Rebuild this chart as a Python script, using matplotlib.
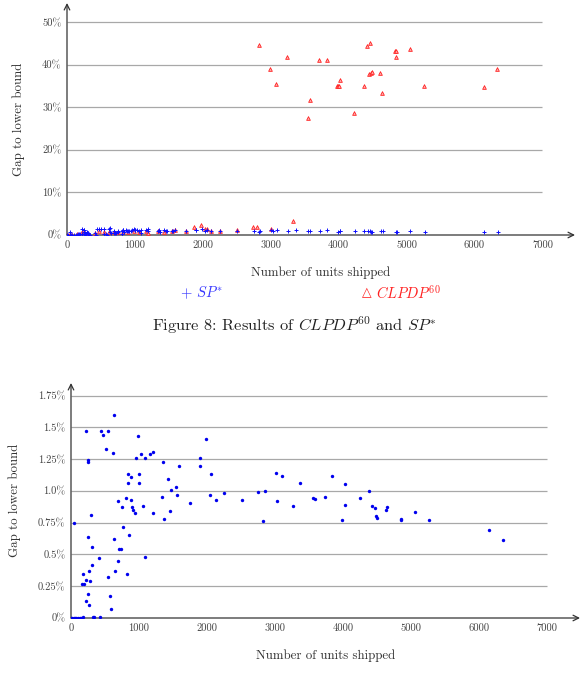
import matplotlib
matplotlib.use("Agg")
import matplotlib.pyplot as plt

plt.rcParams['font.family'] = 'serif'
plt.rcParams['font.serif'] = ['cmr10', 'DejaVu Serif']
plt.rcParams['mathtext.fontset'] = 'cm'
plt.rcParams['axes.formatter.use_mathtext'] = True

# SP* results: number of units shipped vs gap to lower bound (%)
sp_units = [0, 20, 40, 60, 80, 100, 130, 150, 172, 44, 216, 251, 256, 300, 251,
            310, 305, 261, 177, 167, 187, 221, 280, 256, 221, 271, 320, 335, 428,
            418, 438, 477, 507, 546, 551, 576, 595, 615, 639, 630, 644, 698, 698,
            708, 728, 753, 758, 807, 817, 831, 831, 846, 876, 886, 900, 915, 935,
            959, 989, 999, 994, 1033, 1058, 1087, 1092, 1156, 1200, 1200, 1338,
            1358, 1363, 1431, 1451, 1466, 1545, 1564, 1589, 1756, 1894, 1894, 1987,
            2036, 2061, 2125, 2253, 2509, 2755, 2828, 2848, 3006, 3030, 3099, 3261,
            3365, 3554, 3583, 3726, 3834, 3986, 4025, 4025, 4241, 4378, 4427, 4461,
            4476, 4495, 4623, 4647, 4843, 4853, 5054, 5265, 6143, 6343]
sp_gap = [0.0, 0.0, 0.0, 0.0, 0.0, 0.0, 0.0, 0.0, 0.01, 0.75, 1.47, 1.24, 1.23,
          0.81, 0.64, 0.56, 0.42, 0.37, 0.35, 0.27, 0.27, 0.30, 0.29, 0.19, 0.13,
          0.10, 0.01, 0.01, 0.01, 0.47, 1.47, 1.44, 1.33, 1.47, 0.32, 0.17, 0.07,
          1.30, 1.60, 0.62, 0.37, 0.92, 0.45, 0.545, 0.54, 0.87, 0.715, 0.945,
          0.345, 1.13, 1.06, 0.65, 1.11, 0.93, 0.87, 0.85, 0.825, 1.26, 1.43, 1.13,
          1.06, 1.29, 0.885, 1.26, 0.48, 1.29, 1.305, 0.83, 0.956, 1.226, 0.78,
          1.095, 0.844, 1.006, 1.035, 0.97, 1.195, 0.904, 1.26, 1.20, 1.41, 0.97,
          1.13, 0.93, 0.985, 0.93, 0.995, 0.76, 1.0, 1.145, 0.92, 1.12, 0.88, 1.06,
          0.946, 0.933, 0.956, 1.12, 0.768, 1.056, 0.893, 0.948, 1.003, 0.88, 0.867,
          0.804, 0.789, 0.849, 0.872, 0.78, 0.773, 0.833, 0.77, 0.694, 0.613]

# CLPDP^60 results
clp_units = [0, 40, 80, 150, 216, 256, 300, 418, 477, 546, 615, 698, 753, 831, 900,
             989, 1058, 1156, 1200, 1338, 1431, 1545, 1589, 1756, 1870, 1969, 2036,
             2061, 2125, 2253, 2509, 2735, 2803, 3004, 3333,
             2828, 2985, 3073, 3240, 3549, 3579, 3716, 3824, 3971, 3996, 4010, 4020,
             4232, 4379, 4418, 4467, 4452, 4473, 4492, 4614, 4644, 4835, 4850, 4850,
             5047, 5258, 6141, 6337]
clp_gap = [0.1, 0.2, 0.1, 0.3, 0.8, 0.6, 0.5, 0.4, 0.9, 0.7, 0.8, 0.6, 0.7, 0.9, 0.8,
           1.0, 0.7, 0.9, 0.4, 0.9, 0.8, 1.0, 1.1, 0.9, 1.9, 2.3, 1.4, 1.5, 1.0, 1.0,
           1.2, 1.95, 1.8, 1.3, 3.4,
           44.7, 38.9, 35.4, 41.7, 27.6, 31.6, 41.2, 41.0, 34.9, 35.1, 35.1, 36.4,
           28.6, 34.9, 44.4, 45.2, 37.8, 38.1, 38.4, 38.1, 33.3, 43.2, 43.2, 41.8,
           43.8, 35.1, 34.8, 39.1]

x_ticks = [0, 1000, 2000, 3000, 4000, 5000, 6000, 7000]
top_yticks = [0, 10, 20, 30, 40, 50]
top_ylabels = ['0%', '10%', '20%', '30%', '40%', '50%']
bot_yticks = [0, 0.25, 0.5, 0.75, 1.0, 1.25, 1.5, 1.75]
bot_ylabels = ['0%', '0.25%', '0.5%', '0.75%', '1.0%', '1.25%', '1.5%', '1.75%']

W, H = 588, 692
fig = plt.figure(figsize=(W / 100, H / 100), dpi=100)


def style_axes(ax, yticks, ylabels, ymax):
    ax.set_xlim(0, 7480)
    ax.set_ylim(0, ymax)
    for s in ax.spines.values():
        s.set_visible(False)
    ax.hlines(yticks[1:], 0, 7000, color='#a8a8a8', lw=0.9, zorder=0)
    ax.annotate('', xy=(1, 0), xytext=(0, 0), xycoords='axes fraction',
                arrowprops=dict(arrowstyle='->', lw=0.9, color='#333333',
                                shrinkA=0, shrinkB=0), zorder=1)
    ax.annotate('', xy=(0, 1), xytext=(0, 0), xycoords='axes fraction',
                arrowprops=dict(arrowstyle='->', lw=0.9, color='#333333',
                                shrinkA=0, shrinkB=0), zorder=1)
    ax.set_xticks(x_ticks)
    ax.set_xticklabels([str(t) for t in x_ticks])
    ax.set_yticks(yticks)
    ax.set_yticklabels(ylabels)
    ax.tick_params(length=0, labelsize=7.6, colors='#444444', pad=4)
    ax.set_xlabel('Number of units shipped', fontsize=9.3, color='#333333', labelpad=12)
    ax.set_ylabel('Gap to lower bound', fontsize=9.3, color='#333333', labelpad=12)


# top panel: both methods
ax1 = fig.add_axes([67 / W, 1 - 235 / H, 508 / W, 232 / H])
style_axes(ax1, top_yticks, top_ylabels, 54.5)
ax1.scatter(clp_units, clp_gap, marker='^', s=7, facecolors='#ffb0b0',
            edgecolors='#ff2020', linewidths=0.6, zorder=3)
ax1.scatter(sp_units, sp_gap, marker='+', s=12, color='#1010ff',
            linewidths=0.7, zorder=4)

fig.text(180 / W, 1 - 293 / H, r'+ $SP^{*}$', color='#3838ff', fontsize=10.5,
         va='center', ha='left')
fig.text(362 / W, 1 - 293 / H, '\u25b3', color='#ff2020', fontsize=9,
         va='center', ha='left', family='DejaVu Sans')
fig.text(376 / W, 1 - 293 / H, r'$CLPDP^{60}$', color='#ff2020',
         fontsize=10.5, va='center', ha='left')
fig.text(294 / W, 1 - 325 / H, r'Figure 8: Results of $CLPDP^{60}$ and $SP^{*}$',
         fontsize=11.8, color='#222222', ha='center', va='center')

# bottom panel: SP* only
ax2 = fig.add_axes([71 / W, 1 - 618 / H, 509 / W, 235 / H])
style_axes(ax2, bot_yticks, bot_ylabels, 1.85)
ax2.scatter(sp_units, sp_gap, marker='o', s=6, color='#0000ee',
            linewidths=0, zorder=3)

fig.savefig('out.png', dpi=100)
